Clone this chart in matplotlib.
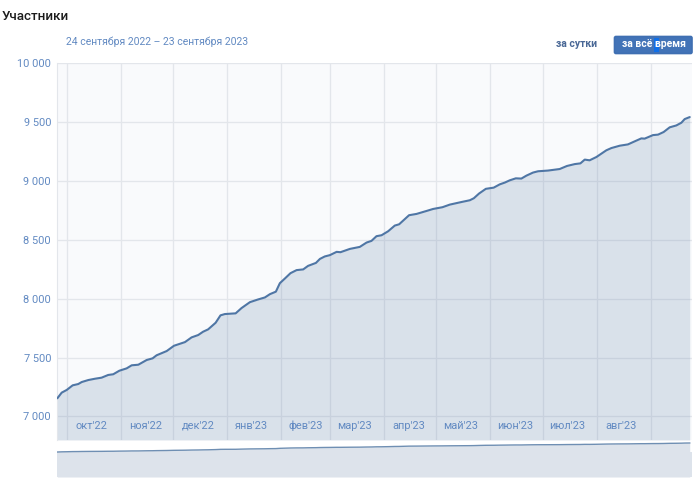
import matplotlib
matplotlib.use("Agg")
import matplotlib.pyplot as plt
from matplotlib.patches import FancyBboxPatch, Rectangle

plt.rcParams['font.family'] = ['Roboto', 'DejaVu Sans']

W, H = 700, 483

days = [-5.7, -3.2, -0.3, 3.1, 6.3, 8.3, 12.1, 15.9, 19.7, 23.5, 26.4, 29.9, 34.1, 37, 40.8, 45.6, 49, 51.3,
        57.1, 61.3, 67.6, 71.4, 75.2, 78, 80.9, 85.2, 88, 90.5, 96.7, 100.1, 104.9, 109.6, 113.5, 116.4,
        119.8, 122.1, 125, 128.2, 131.7, 135.5, 138.3, 142.8, 145.1, 147.9, 150.8, 154.7, 156.9, 162.3,
        168, 171.9, 174.7, 177.6, 180.5, 184.3, 188.1, 190.6, 196.3, 200.6, 206.3, 210.1, 215.5, 219.7,
        226.4, 231.2, 233.5, 236.5, 240.4, 244.9, 248.4, 251.3, 254.1, 257.6, 260.8, 263.7, 267.5, 270.4,
        276.1, 282.8, 287, 291.5, 294.7, 297.2, 300, 303.9, 309.6, 312.5, 317.3, 322, 325.9, 329.7, 331.6,
        336.4, 339.3, 342.5, 346, 349.8, 352.7, 354.6, 357.5]
members = [7154, 7202, 7225, 7264, 7275, 7292, 7309, 7320, 7329, 7352, 7358, 7388, 7408, 7434, 7439, 7479, 7493, 7519,
           7555, 7600, 7631, 7671, 7691, 7719, 7739, 7795, 7858, 7869, 7875, 7920, 7970, 7993, 8010, 8038,
           8059, 8131, 8171, 8216, 8242, 8248, 8278, 8303, 8337, 8358, 8369, 8397, 8394, 8422,
           8439, 8476, 8490, 8530, 8538, 8572, 8620, 8631, 8708, 8719, 8744, 8761, 8776, 8798,
           8820, 8835, 8852, 8892, 8932, 8942, 8970, 8985, 9004, 9021, 9019, 9044, 9070, 9081,
           9087, 9100, 9126, 9142, 9148, 9180, 9174, 9202, 9259, 9278, 9298, 9309, 9335, 9360, 9358,
           9388, 9392, 9414, 9454, 9470, 9493, 9524, 9541]

month_starts = [0, 31, 61, 92, 123, 151, 182, 212, 243, 273, 304, 335]
month_labels = ["окт'22", "ноя'22", "дек'22", "янв'23", "фев'23", "мар'23", "апр'23", "май'23",
                "июн'23", "июл'23", "авг'23"]
y_ticks = [7000, 7500, 8000, 8500, 9000, 9500, 10000]
y_labels = ["7 000", "7 500", "8 000", "8 500", "9 000", "9 500", "10 000"]

BLUE_TXT = "#628ac2"
GRID = "#e3e6eb"
LINE = "#4f76a5"


def box(x0, y0, x1, y1):
    return [x0 / W, 1 - y1 / H, (x1 - x0) / W, (y1 - y0) / H]


fig = plt.figure(figsize=(7, 4.83), dpi=100, facecolor="white")

XLIM = (-5.9, 358.8)

# main chart
ax = fig.add_axes(box(57, 63, 692, 440))
ax.set_facecolor("#f9fafc")
ax.set_xlim(*XLIM)
ax.set_ylim(6800, 10000)
for s in ax.spines.values():
    s.set_visible(False)
ax.spines["left"].set_visible(True)
ax.spines["left"].set_color(GRID)
ax.spines["left"].set_linewidth(0.8)
ax.set_xticks(month_starts)
ax.set_xticklabels([])
ax.set_yticks(y_ticks)
ax.set_yticklabels(y_labels, color=BLUE_TXT, fontsize=7.9)
ax.tick_params(axis="both", length=0, pad=4.3)
ax.grid(True, color=GRID, linewidth=0.95, zorder=1)
ax.set_axisbelow(True)
ax.fill_between(days, members, 6800, color="#5c7fa6", alpha=0.2, linewidth=0, zorder=2)
ax.plot(days, members, color=LINE, linewidth=1.5, zorder=3, solid_capstyle="round")
for start, label in zip(month_starts, month_labels):
    ax.text(start + 14, 6895, label, color=BLUE_TXT, fontsize=7.9, ha="center", va="baseline", zorder=4)

# navigator
nav = fig.add_axes(box(57, 440, 692, 477))
nav.set_xlim(*XLIM)
nav.set_ylim(530, 10335)
nav.axis("off")
nav.fill_between(days, members, 530, color="#dde3eb", linewidth=0, zorder=1)
nav.axhspan(530, members[0], color="#dde3eb", linewidth=0, zorder=1)
nav.plot(days, members, color="#6f8fb3", linewidth=1.0, zorder=2)

# header
def px_text(x, y, s, **kw):
    return fig.text(x / W, 1 - y / H, s, va="center", **kw)


px_text(2, 16.5, "Участники", color="#1c1c1c", fontsize=9.6, fontweight="medium")
px_text(66, 41.5, "24 сентября 2022 – 23 сентября 2023", color=BLUE_TXT, fontsize=7.45)
px_text(576.5, 44, "за сутки", color="#4a6896", fontsize=7.5, fontweight="bold", ha="center")

overlay = fig.add_axes([0, 0, 1, 1], zorder=5)
overlay.set_xlim(0, W)
overlay.set_ylim(H, 0)
overlay.axis("off")
overlay.add_patch(FancyBboxPatch((614.5, 36.5), 77.5, 17, boxstyle="round,pad=0,rounding_size=1.5",
                                 facecolor="#4273b7", edgecolor="#3f6fb2", linewidth=1.2))
overlay.add_patch(Rectangle((653.5, 38), 5.5, 14, facecolor="#0f6fe8", edgecolor="none"))
overlay.text(653.5, 44.2, "за всё время", color="white", fontsize=7.45, fontweight="bold", ha="center", va="center")

fig.savefig("out.png", dpi=100)
